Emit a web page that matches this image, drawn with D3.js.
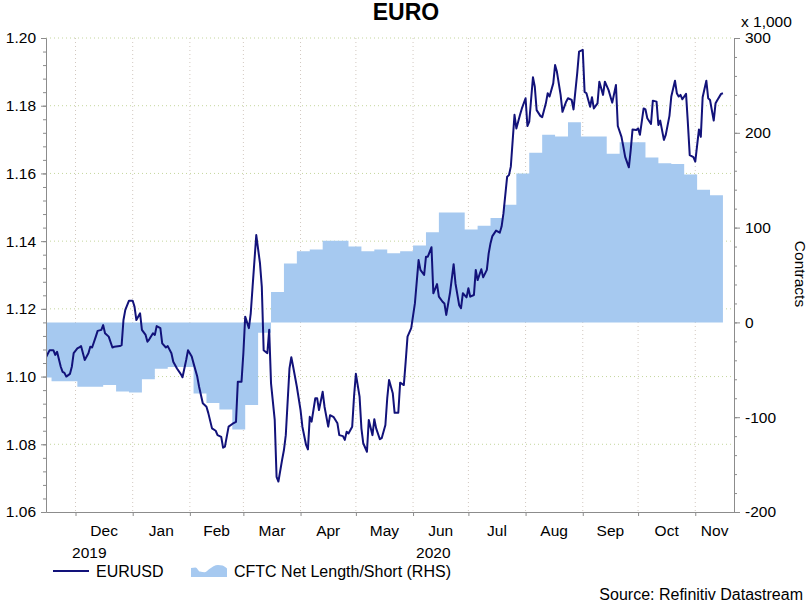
<!DOCTYPE html>
<html>
<head>
<meta charset="utf-8">
<script src="https://cdn.jsdelivr.net/npm/d3@7"></script>
<style>
  body { margin: 0; background: #fff; }
  svg { display: block; font-family: Arial, "Liberation Sans", sans-serif; }
</style>
</head>
<body>
<div id="chart"></div>
<script>
// EURUSD spot
const fxDates = [
  '2019-11-15','2019-11-17','2019-11-19','2019-11-20','2019-11-21','2019-11-23','2019-11-24','2019-11-25','2019-11-26','2019-11-28','2019-11-29','2019-11-30',
  '2019-12-02','2019-12-03','2019-12-04','2019-12-06','2019-12-08','2019-12-09','2019-12-10','2019-12-12','2019-12-13','2019-12-15','2019-12-16','2019-12-17','2019-12-19','2019-12-21','2019-12-22','2019-12-25','2019-12-26','2019-12-27','2019-12-28','2019-12-30',
  '2020-01-01','2020-01-02','2020-01-03','2020-01-05','2020-01-06','2020-01-08','2020-01-09','2020-01-10','2020-01-12','2020-01-13','2020-01-14','2020-01-16','2020-01-17','2020-01-19','2020-01-20','2020-01-22','2020-01-23','2020-01-25','2020-01-27','2020-01-28','2020-01-30','2020-01-31',
  '2020-02-02','2020-02-03','2020-02-05','2020-02-06','2020-02-08','2020-02-10','2020-02-11','2020-02-13','2020-02-15','2020-02-16','2020-02-18','2020-02-19','2020-02-20','2020-02-22','2020-02-24','2020-02-26','2020-02-27','2020-02-29',
  '2020-03-01','2020-03-02','2020-03-04','2020-03-05','2020-03-06','2020-03-08','2020-03-10','2020-03-11','2020-03-12','2020-03-14','2020-03-15','2020-03-16','2020-03-18','2020-03-19','2020-03-20','2020-03-22','2020-03-23','2020-03-24','2020-03-26','2020-03-27','2020-03-28','2020-03-30',
  '2020-04-01','2020-04-02','2020-04-04','2020-04-05','2020-04-06','2020-04-07','2020-04-09','2020-04-10','2020-04-11','2020-04-13','2020-04-14','2020-04-16','2020-04-17','2020-04-19','2020-04-21','2020-04-22','2020-04-24','2020-04-25','2020-04-26','2020-04-27','2020-04-29','2020-04-30',
  '2020-05-01','2020-05-03','2020-05-04','2020-05-05','2020-05-07','2020-05-08','2020-05-10','2020-05-11','2020-05-12','2020-05-14','2020-05-15','2020-05-17','2020-05-18','2020-05-19','2020-05-21','2020-05-22','2020-05-24','2020-05-25','2020-05-27','2020-05-28','2020-05-29','2020-05-31',
  '2020-06-02','2020-06-04','2020-06-05','2020-06-07','2020-06-08','2020-06-09','2020-06-11','2020-06-12','2020-06-14','2020-06-15','2020-06-17','2020-06-18','2020-06-19','2020-06-21','2020-06-23','2020-06-24','2020-06-26','2020-06-27','2020-06-28','2020-06-30',
  '2020-07-01','2020-07-02','2020-07-04','2020-07-05','2020-07-06','2020-07-08','2020-07-09','2020-07-11','2020-07-12','2020-07-13','2020-07-14','2020-07-16','2020-07-18','2020-07-19','2020-07-20','2020-07-22','2020-07-23','2020-07-24','2020-07-26','2020-07-27','2020-07-29','2020-07-30',
  '2020-08-01','2020-08-02','2020-08-03','2020-08-05','2020-08-06','2020-08-07','2020-08-09','2020-08-10','2020-08-12','2020-08-13','2020-08-14','2020-08-16','2020-08-17','2020-08-18','2020-08-20','2020-08-21','2020-08-23','2020-08-24','2020-08-26','2020-08-27','2020-08-29','2020-08-30',
  '2020-09-01','2020-09-02','2020-09-03','2020-09-05','2020-09-06','2020-09-07','2020-09-09','2020-09-10','2020-09-12','2020-09-13','2020-09-15','2020-09-16','2020-09-17','2020-09-19','2020-09-20','2020-09-22','2020-09-23','2020-09-24','2020-09-26','2020-09-27','2020-09-28','2020-09-30',
  '2020-10-01','2020-10-02','2020-10-04','2020-10-05','2020-10-06','2020-10-08','2020-10-09','2020-10-11','2020-10-12','2020-10-13','2020-10-15','2020-10-16','2020-10-18','2020-10-19','2020-10-21','2020-10-22','2020-10-23','2020-10-24','2020-10-25','2020-10-27','2020-10-28','2020-10-29','2020-10-31',
  '2020-11-01','2020-11-03','2020-11-04','2020-11-05','2020-11-07','2020-11-08','2020-11-09','2020-11-11','2020-11-12','2020-11-13','2020-11-15','2020-11-16'
];
const fxValues = [
  1.1057,1.1078,1.1078,1.1064,1.1073,1.1029,1.1014,1.1011,1.1000,1.1008,1.1029,1.1069,
  1.1083,1.1086,1.1090,1.1049,1.1069,1.1088,1.1086,1.1118,1.1135,1.1138,1.1152,1.1128,1.1118,1.1086,1.1088,1.1090,1.1093,1.1167,1.1197,1.1224,
  1.1224,1.1206,1.1167,1.1187,1.1138,1.1123,1.1103,1.1110,1.1128,1.1123,1.1149,1.1143,1.1098,1.1086,1.1090,1.1069,1.1044,1.1024,1.1008,1.0998,1.1049,1.1078,
  1.1059,1.1039,1.1000,1.0970,1.0921,1.0911,1.0892,1.0847,1.0840,1.0827,1.0822,1.0790,1.0793,1.0852,1.0860,1.0866,1.0985,1.0985,
  1.1069,1.1177,1.1143,1.1187,1.1265,1.1418,1.1335,1.1265,1.1078,1.1069,1.1138,1.0980,1.0872,1.0704,1.0690,1.0754,1.0783,1.0827,1.1024,1.1057,1.1029,1.0970,
  1.0901,1.0852,1.0798,1.0785,1.0881,1.0867,1.0936,1.0936,1.0901,1.0955,1.0911,1.0852,1.0886,1.0880,1.0862,1.0827,1.0824,1.0813,1.0837,1.0832,1.0852,1.0941,
  1.1008,1.0941,1.0847,1.0803,1.0778,1.0872,1.0827,1.0874,1.0847,1.0815,1.0818,1.0857,1.0936,1.0990,1.0951,1.0893,1.0893,1.0982,1.0975,1.1044,1.1118,1.1143,
  1.1216,1.1344,1.1315,1.1300,1.1354,1.1354,1.1382,1.1246,1.1273,1.1236,1.1221,1.1216,1.1182,1.1246,1.1332,1.1275,1.1211,1.1202,1.1246,1.1234,
  1.1261,1.1236,1.1241,1.1315,1.1285,1.1317,1.1293,1.1315,1.1364,1.1394,1.1415,1.1431,1.1425,1.1443,1.1482,1.1590,1.1595,1.1620,1.1773,1.1733,1.1773,1.1792,
  1.1822,1.1740,1.1753,1.1884,1.1856,1.1787,1.1770,1.1766,1.1807,1.1837,1.1827,1.1866,1.1920,1.1900,1.1832,1.1782,1.1812,1.1822,1.1817,1.1789,1.1896,1.1960,
  1.1965,1.1841,1.1837,1.1797,1.1825,1.1792,1.1807,1.1871,1.1832,1.1871,1.1846,1.1827,1.1809,1.1861,1.1740,1.1708,1.1679,1.1649,1.1618,1.1669,1.1730,1.1728,
  1.1733,1.1714,1.1792,1.1789,1.1763,1.1746,1.1815,1.1812,1.1743,1.1756,1.1699,1.1714,1.1770,1.1827,1.1874,1.1837,1.1827,1.1832,1.1819,1.1835,1.1748,1.1654,1.1648,
  1.1635,1.1730,1.1708,1.1825,1.1874,1.1822,1.1817,1.1756,1.1807,1.1817,1.1835,1.1837
];

// CFTC net length/short, thousands of contracts, weekly (last entry closes the step)
const cftcDates = [
  '2019-11-11','2019-11-18','2019-11-25','2019-12-02','2019-12-09','2019-12-16','2019-12-23','2019-12-30',
  '2020-01-06','2020-01-13','2020-01-20','2020-01-27','2020-02-03','2020-02-10','2020-02-17','2020-02-24',
  '2020-03-02','2020-03-09','2020-03-16','2020-03-23','2020-03-30','2020-04-06','2020-04-13','2020-04-20','2020-04-27',
  '2020-05-04','2020-05-11','2020-05-18','2020-05-25','2020-06-01','2020-06-08','2020-06-15','2020-06-22','2020-06-29',
  '2020-07-06','2020-07-13','2020-07-20','2020-07-27','2020-08-03','2020-08-10','2020-08-17','2020-08-24','2020-08-31',
  '2020-09-07','2020-09-14','2020-09-21','2020-09-28','2020-10-05','2020-10-12','2020-10-19','2020-10-26',
  '2020-11-02','2020-11-09','2020-11-16'
];
const cftcValues = [
  -58, -62, -62, -68, -68, -66, -73, -74,
  -60, -49, -47, -47, -75, -85, -92, -113,
  -87, -11, 32, 62, 75, 77, 86, 86, 80,
  75, 77, 73, 75, 81, 95, 116, 116, 98,
  102, 110, 124, 157, 179, 198, 196, 211, 196,
  196, 178, 190, 190, 174, 168, 167, 156,
  140, 134, 134
];

const leftTicks = [1.06, 1.08, 1.10, 1.12, 1.14, 1.16, 1.18, 1.20];
const rightTicks = [-200, -100, 0, 100, 200, 300];
const monthLabels = ['Dec', 'Jan', 'Feb', 'Mar', 'Apr', 'May', 'Jun', 'Jul', 'Aug', 'Sep', 'Oct', 'Nov'];
const yearLabels = ['2019', '2020'];

const width = 810;
const height = 604;
const margin = { top: 38, right: 76, bottom: 92, left: 46 };
const axisColor = '#8c8c8c';
const lineColor = '#12127a';
const areaColor = '#a6c9f0';

const parse = d3.utcParse('%Y-%m-%d');
const fx = fxDates.map((d, i) => ({ date: parse(d), value: fxValues[i] }));
const cftc = cftcDates.map((d, i) => ({ date: parse(d), value: cftcValues[i] }));

const start = parse('2019-11-15');
const end = parse('2020-11-22');

const x = d3.scaleUtc()
  .domain([start, end])
  .range([margin.left, width - margin.right]);

const yLeft = d3.scaleLinear()
  .domain([1.06, 1.20])
  .range([height - margin.bottom, margin.top]);

const yRight = d3.scaleLinear()
  .domain([-200, 300])
  .range([height - margin.bottom, margin.top]);

const svg = d3.select('#chart').append('svg')
  .attr('width', width)
  .attr('height', height);

svg.append('rect').attr('width', width).attr('height', height).attr('fill', '#fff');

svg.append('clipPath').attr('id', 'plot')
  .append('rect')
  .attr('x', margin.left)
  .attr('y', margin.top)
  .attr('width', width - margin.left - margin.right)
  .attr('height', height - margin.top - margin.bottom);

// Month boundaries inside the range
const monthStarts = d3.utcMonth.range(d3.utcMonth.ceil(start), end);

// Grid
const grid = svg.append('g');
grid.selectAll('.hgrid')
  .data(leftTicks.slice(1))
  .join('line')
  .attr('x1', margin.left)
  .attr('x2', width - margin.right)
  .attr('y1', d => yLeft(d))
  .attr('y2', d => yLeft(d))
  .attr('stroke', '#c4d69c')
  .attr('stroke-dasharray', '1,3');

grid.selectAll('.vgrid')
  .data(monthStarts)
  .join('line')
  .attr('x1', d => x(d))
  .attr('x2', d => x(d))
  .attr('y1', margin.top)
  .attr('y2', height - margin.bottom)
  .attr('stroke', '#d2c8c0')
  .attr('stroke-dasharray', '1,3');

// CFTC area
const area = d3.area()
  .curve(d3.curveStepAfter)
  .x(d => x(d.date))
  .y0(yRight(0))
  .y1(d => yRight(d.value));

svg.append('path')
  .datum(cftc)
  .attr('clip-path', 'url(#plot)')
  .attr('fill', areaColor)
  .attr('d', area);

// EURUSD line
const line = d3.line()
  .x(d => x(d.date))
  .y(d => yLeft(d.value));

svg.append('path')
  .datum(fx)
  .attr('clip-path', 'url(#plot)')
  .attr('fill', 'none')
  .attr('stroke', lineColor)
  .attr('stroke-width', 2)
  .attr('stroke-linejoin', 'round')
  .attr('d', line);

// Axes
function styleAxis(g, size) {
  g.select('.domain').attr('stroke', axisColor);
  g.selectAll('line').attr('stroke', axisColor);
  g.selectAll('text')
    .attr('fill', '#000')
    .attr('font-size', size)
    .attr('font-family', 'Arial, "Liberation Sans", sans-serif');
}

// left minor ticks
svg.append('g')
  .attr('transform', `translate(${margin.left},0)`)
  .call(d3.axisLeft(yLeft).tickValues(d3.range(0, 36).map(i => 1.06 + i * 0.004)).tickSize(3).tickSizeOuter(0).tickFormat(''))
  .call(g => styleAxis(g, 15));

svg.append('g')
  .attr('transform', `translate(${margin.left},0)`)
  .call(d3.axisLeft(yLeft).tickValues(leftTicks).tickSize(5).tickPadding(5).tickSizeOuter(0).tickFormat(d3.format('.2f')))
  .call(g => styleAxis(g, 15.5));

// right minor ticks
svg.append('g')
  .attr('transform', `translate(${width - margin.right},0)`)
  .call(d3.axisRight(yRight).tickValues(d3.range(-200, 301, 20)).tickSize(3).tickSizeOuter(0).tickFormat(''))
  .call(g => styleAxis(g, 15));

svg.append('g')
  .attr('transform', `translate(${width - margin.right},0)`)
  .call(d3.axisRight(yRight).tickValues(rightTicks).tickSize(6).tickPadding(5).tickSizeOuter(0).tickFormat(d => String(d)))
  .call(g => styleAxis(g, 15.5));

svg.append('g')
  .attr('transform', `translate(0,${height - margin.bottom})`)
  .call(d3.axisBottom(x).tickValues(monthStarts).tickSize(4).tickSizeOuter(0).tickFormat(''))
  .call(g => styleAxis(g, 15));

// Month labels centred in each month
const monthSpans = monthStarts.map((d, i) => [d, i + 1 < monthStarts.length ? monthStarts[i + 1] : end]);
svg.selectAll('.month')
  .data(monthSpans)
  .join('text')
  .attr('x', d => (x(d[0]) + x(d[1])) / 2)
  .attr('y', 535.5)
  .attr('text-anchor', 'middle')
  .attr('font-size', 15.5)
  .text((d, i) => monthLabels[i]);

// Year labels centred on the part of each year shown
const yearSpans = [[start, parse('2020-01-01')], [parse('2020-01-01'), end]];
svg.selectAll('.year')
  .data(yearSpans)
  .join('text')
  .attr('x', d => (x(d[0]) + x(d[1])) / 2)
  .attr('y', 557.5)
  .attr('text-anchor', 'middle')
  .attr('font-size', 15.5)
  .text((d, i) => yearLabels[i]);

// Titles
svg.append('text')
  .attr('x', 406)
  .attr('y', 19.5)
  .attr('text-anchor', 'middle')
  .attr('font-size', 23)
  .attr('font-weight', 'bold')
  .text('EURO');

svg.append('text')
  .attr('x', 741)
  .attr('y', 26.5)
  .attr('font-size', 15.5)
  .text('x 1,000');

svg.append('text')
  .attr('transform', 'translate(795,274) rotate(90)')
  .attr('text-anchor', 'middle')
  .attr('font-size', 15.5)
  .text('Contracts');

// Legend
const legend = svg.append('g');
legend.append('line')
  .attr('x1', 53).attr('x2', 89)
  .attr('y1', 571).attr('y2', 571)
  .attr('stroke', lineColor)
  .attr('stroke-width', 2);
legend.append('text')
  .attr('x', 96).attr('y', 576.5)
  .attr('font-size', 16)
  .text('EURUSD');

// small mountain swatch for the area series
const swatchProfile = [0.75, 0.8, 0.45, 0.4, 0.65, 0.9, 1, 0.95, 0.7];
const sx = d3.scaleLinear().domain([0, swatchProfile.length - 1]).range([191, 227]);
const sy = d3.scaleLinear().domain([0, 1]).range([577, 565]);
legend.append('path')
  .datum(swatchProfile)
  .attr('fill', areaColor)
  .attr('d', d3.area().x((d, i) => sx(i)).y0(sy(0)).y1(d => sy(d)).curve(d3.curveMonotoneX));
legend.append('text')
  .attr('x', 234).attr('y', 576.5)
  .attr('font-size', 16)
  .text('CFTC Net Length/Short (RHS)');

svg.append('text')
  .attr('x', 803).attr('y', 600)
  .attr('text-anchor', 'end')
  .attr('font-size', 16)
  .text('Source: Refinitiv Datastream');
</script>
</body>
</html>
